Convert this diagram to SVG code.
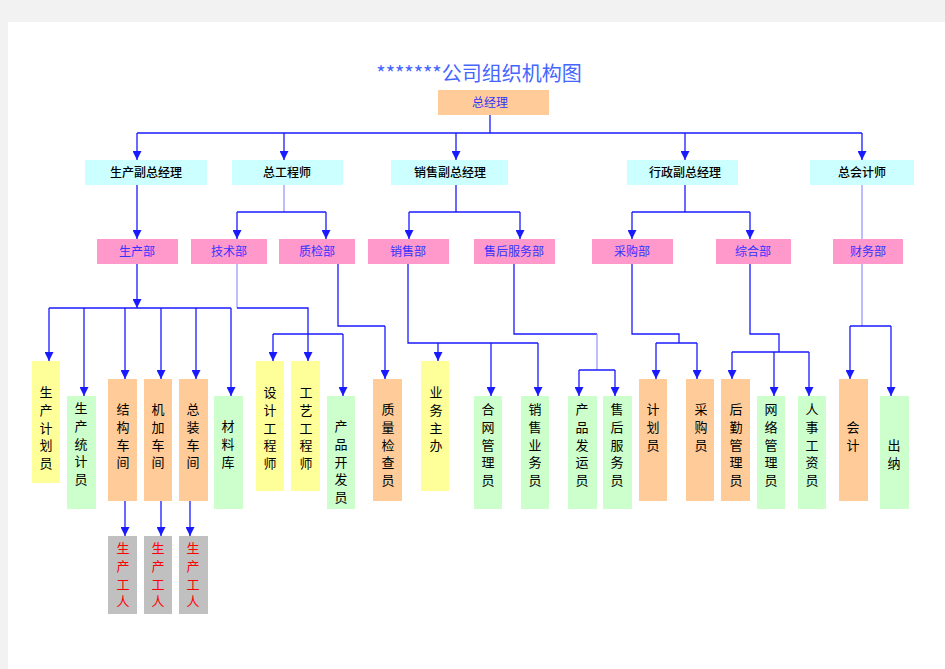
<svg xmlns="http://www.w3.org/2000/svg" width="945" height="669" viewBox="0 0 945 669">
<style>
text{font-family:"Noto Sans CJK SC","Noto Sans",sans-serif;}
.title{font-size:20px;fill:#4466FF;}
.h{font-size:12px;text-anchor:middle;}
.blue{fill:#3333FF;}
.blk{fill:#000000;font-weight:500;}
.v{font-size:13px;text-anchor:middle;fill:#000000;}
.red{fill:#FF0000;}
.or{fill:#FFCC99;}
.cy{fill:#CCFFFF;}
.pk{fill:#FF99CC;}
.ye{fill:#FFFF99;}
.gr{fill:#CCFFCC;}
.gy{fill:#C0C0C0;}
.ln{fill:none;stroke:#1a1aff;stroke-width:1.3;}
.lt{fill:none;stroke:#9999FF;stroke-width:1.3;}
.ar{fill:none;stroke:#1a1aff;stroke-width:1.3;marker-end:url(#ah);}
</style>
<defs>
<marker id="ah" markerUnits="userSpaceOnUse" markerWidth="9" markerHeight="9" viewBox="0 0 9 9" refX="9" refY="4.5" orient="auto">
<path d="M0,0 L9,4.5 L0,9 Z" fill="#1a1aff"/>
</marker>
</defs>
<rect x="0" y="0" width="945" height="669" fill="#F2F2F2"/>
<rect x="8" y="22" width="937" height="647" fill="#FFFFFF"/>
<text class="title" x="479" y="81" text-anchor="middle">*******公司组织机构图</text>

<g id="connectors">
<line class="ln" x1="490" y1="115" x2="490" y2="133"/>
<line class="ln" x1="137" y1="133" x2="862" y2="133"/>
<line class="ar" x1="137" y1="133" x2="137" y2="160"/>
<line class="ar" x1="284" y1="133" x2="284" y2="160"/>
<line class="ar" x1="456" y1="133" x2="456" y2="160"/>
<line class="ar" x1="685" y1="133" x2="685" y2="160"/>
<line class="ar" x1="862" y1="133" x2="862" y2="160"/>

<line class="ar" x1="137" y1="185" x2="137" y2="239"/>
<line class="lt" x1="284" y1="185" x2="284" y2="212"/>
<line class="ln" x1="237" y1="212" x2="326" y2="212"/>
<line class="ar" x1="237" y1="212" x2="237" y2="239"/>
<line class="ar" x1="326" y1="212" x2="326" y2="239"/>
<line class="ln" x1="456" y1="185" x2="456" y2="212"/>
<line class="ln" x1="409" y1="212" x2="520" y2="212"/>
<line class="ar" x1="409" y1="212" x2="409" y2="239"/>
<line class="ar" x1="520" y1="212" x2="520" y2="239"/>
<line class="ln" x1="685" y1="185" x2="685" y2="212"/>
<line class="ln" x1="632" y1="212" x2="750" y2="212"/>
<line class="ar" x1="632" y1="212" x2="632" y2="239"/>
<line class="ar" x1="750" y1="212" x2="750" y2="239"/>
<line class="lt" x1="862" y1="185" x2="862" y2="239"/>

<line class="ar" x1="137" y1="264" x2="137" y2="308"/>
<line class="ln" x1="49" y1="308" x2="231" y2="308"/>
<line class="ar" x1="49" y1="308" x2="49" y2="361"/>
<line class="ar" x1="84" y1="308" x2="84" y2="396"/>
<line class="ar" x1="125" y1="308" x2="125" y2="379"/>
<line class="ar" x1="161" y1="308" x2="161" y2="379"/>
<line class="ar" x1="196" y1="308" x2="196" y2="379"/>
<line class="ar" x1="231" y1="308" x2="231" y2="396"/>
<line class="ar" x1="125" y1="501" x2="125" y2="536"/>
<line class="ar" x1="161" y1="501" x2="161" y2="536"/>
<line class="ar" x1="190" y1="501" x2="190" y2="536"/>

<polyline class="lt" points="237,264 237,308"/>
<polyline class="ln" points="237,308 308,308 308,334"/>
<line class="ar" x1="308" y1="334" x2="308" y2="361"/>
<line class="ln" x1="273" y1="334" x2="343" y2="334"/>
<line class="ar" x1="273" y1="334" x2="273" y2="361"/>
<line class="ar" x1="343" y1="334" x2="343" y2="396"/>

<polyline class="ln" points="338,264 338,326 385,326"/>
<line class="ar" x1="385" y1="326" x2="385" y2="379"/>

<polyline class="ln" points="408,264 408,343 538,343"/>
<line class="ar" x1="438" y1="343" x2="438" y2="361"/>
<line class="ar" x1="491" y1="343" x2="491" y2="396"/>
<line class="ar" x1="538" y1="343" x2="538" y2="396"/>

<polyline class="ln" points="514,264 514,334 597,334"/>
<line class="lt" x1="597" y1="334" x2="597" y2="370"/>
<line class="ln" x1="579" y1="370" x2="615" y2="370"/>
<line class="ar" x1="579" y1="370" x2="579" y2="396"/>
<line class="ar" x1="615" y1="370" x2="615" y2="396"/>

<polyline class="ln" points="632,264 632,334 679,334 679,343"/>
<line class="ln" x1="656" y1="343" x2="697" y2="343"/>
<line class="ar" x1="656" y1="343" x2="656" y2="379"/>
<line class="ar" x1="697" y1="343" x2="697" y2="379"/>

<polyline class="ln" points="750,264 750,334 779,334 779,352"/>
<line class="ln" x1="732" y1="352" x2="809" y2="352"/>
<line class="ar" x1="732" y1="352" x2="732" y2="379"/>
<line class="ar" x1="774" y1="352" x2="774" y2="396"/>
<line class="ar" x1="809" y1="352" x2="809" y2="396"/>

<line class="lt" x1="862" y1="264" x2="862" y2="326"/>
<line class="ln" x1="850" y1="326" x2="891" y2="326"/>
<line class="ar" x1="850" y1="326" x2="850" y2="379"/>
<line class="ar" x1="891" y1="326" x2="891" y2="396"/>
</g>

<g id="zjl"><rect class="or" x="438" y="90" width="111" height="25"/><text class="h blue" x="490" y="107">总经理</text></g>

<g id="scfzjl"><rect class="cy" x="85" y="160" width="122" height="25"/><text class="h blk" x="146" y="177">生产副总经理</text></g>
<g id="zgcs"><rect class="cy" x="232" y="160" width="111" height="25"/><text class="h blk" x="287" y="177">总工程师</text></g>
<g id="xsfzjl"><rect class="cy" x="391" y="160" width="117" height="25"/><text class="h blk" x="450" y="177">销售副总经理</text></g>
<g id="xzfzjl"><rect class="cy" x="627" y="160" width="111" height="25"/><text class="h blk" x="685" y="177">行政副总经理</text></g>
<g id="zkjs"><rect class="cy" x="810" y="160" width="104" height="25"/><text class="h blk" x="862" y="177">总会计师</text></g>

<g id="scb"><rect class="pk" x="97" y="239" width="81" height="25"/><text class="h blue" x="137" y="256">生产部</text></g>
<g id="jsb"><rect class="pk" x="191" y="239" width="76" height="25"/><text class="h blue" x="229" y="256">技术部</text></g>
<g id="zjb"><rect class="pk" x="279" y="239" width="76" height="25"/><text class="h blue" x="317" y="256">质检部</text></g>
<g id="xsb"><rect class="pk" x="368" y="239" width="81" height="25"/><text class="h blue" x="408" y="256">销售部</text></g>
<g id="shfwb"><rect class="pk" x="474" y="239" width="81" height="25"/><text class="h blue" x="514" y="256">售后服务部</text></g>
<g id="cgb"><rect class="pk" x="592" y="239" width="81" height="25"/><text class="h blue" x="632" y="256">采购部</text></g>
<g id="zhb"><rect class="pk" x="716" y="239" width="75" height="25"/><text class="h blue" x="753" y="256">综合部</text></g>
<g id="cwb"><rect class="pk" x="833" y="239" width="70" height="25"/><text class="h blue" x="868" y="256">财务部</text></g>

<g id="scjhy"><rect class="ye" x="32" y="361" width="28" height="122"/><text class="v" x="46" y="397"><tspan x="46">生</tspan><tspan x="46" dy="17.8">产</tspan><tspan x="46" dy="17.8">计</tspan><tspan x="46" dy="17.8">划</tspan><tspan x="46" dy="17.8">员</tspan></text></g>
<g id="sctjy"><rect class="gr" x="67" y="396" width="29" height="113"/><text class="v" x="81" y="413"><tspan x="81">生</tspan><tspan x="81" dy="17.8">产</tspan><tspan x="81" dy="17.8">统</tspan><tspan x="81" dy="17.8">计</tspan><tspan x="81" dy="17.8">员</tspan></text></g>
<g id="jgcj"><rect class="or" x="108" y="379" width="29" height="122"/><text class="v" x="123" y="414"><tspan x="123">结</tspan><tspan x="123" dy="17.8">构</tspan><tspan x="123" dy="17.8">车</tspan><tspan x="123" dy="17.8">间</tspan></text></g>
<g id="jjcj"><rect class="or" x="144" y="379" width="28" height="122"/><text class="v" x="158" y="414"><tspan x="158">机</tspan><tspan x="158" dy="17.8">加</tspan><tspan x="158" dy="17.8">车</tspan><tspan x="158" dy="17.8">间</tspan></text></g>
<g id="zzcj"><rect class="or" x="179" y="379" width="29" height="122"/><text class="v" x="193" y="414"><tspan x="193">总</tspan><tspan x="193" dy="17.8">装</tspan><tspan x="193" dy="17.8">车</tspan><tspan x="193" dy="17.8">间</tspan></text></g>
<g id="clk"><rect class="gr" x="214" y="396" width="29" height="113"/><text class="v" x="228" y="431"><tspan x="228">材</tspan><tspan x="228" dy="17.8">料</tspan><tspan x="228" dy="17.8">库</tspan></text></g>
<g id="scgr1"><rect class="gy" x="108" y="536" width="29" height="78"/><text class="v red" x="123" y="553"><tspan x="123">生</tspan><tspan x="123" dy="17.8">产</tspan><tspan x="123" dy="17.8">工</tspan><tspan x="123" dy="17.8">人</tspan></text></g>
<g id="scgr2"><rect class="gy" x="144" y="536" width="28" height="78"/><text class="v red" x="158" y="553"><tspan x="158">生</tspan><tspan x="158" dy="17.8">产</tspan><tspan x="158" dy="17.8">工</tspan><tspan x="158" dy="17.8">人</tspan></text></g>
<g id="scgr3"><rect class="gy" x="179" y="536" width="29" height="78"/><text class="v red" x="193" y="553"><tspan x="193">生</tspan><tspan x="193" dy="17.8">产</tspan><tspan x="193" dy="17.8">工</tspan><tspan x="193" dy="17.8">人</tspan></text></g>

<g id="sjgcs"><rect class="ye" x="256" y="361" width="28" height="130"/><text class="v" x="270" y="397"><tspan x="270">设</tspan><tspan x="270" dy="17.8">计</tspan><tspan x="270" dy="17.8">工</tspan><tspan x="270" dy="17.8">程</tspan><tspan x="270" dy="17.8">师</tspan></text></g>
<g id="gygcs"><rect class="ye" x="291" y="361" width="29" height="130"/><text class="v" x="306" y="397"><tspan x="306">工</tspan><tspan x="306" dy="17.8">艺</tspan><tspan x="306" dy="17.8">工</tspan><tspan x="306" dy="17.8">程</tspan><tspan x="306" dy="17.8">师</tspan></text></g>
<g id="cpkfy"><rect class="gr" x="327" y="396" width="28" height="113"/><text class="v" x="341" y="431"><tspan x="341">产</tspan><tspan x="341" dy="17.8">品</tspan><tspan x="341" dy="17.8">开</tspan><tspan x="341" dy="17.8">发</tspan><tspan x="341" dy="17.8">员</tspan></text></g>
<g id="zljcy"><rect class="or" x="373" y="379" width="29" height="122"/><text class="v" x="388" y="414"><tspan x="388">质</tspan><tspan x="388" dy="17.8">量</tspan><tspan x="388" dy="17.8">检</tspan><tspan x="388" dy="17.8">查</tspan><tspan x="388" dy="17.8">员</tspan></text></g>
<g id="ywzb"><rect class="ye" x="421" y="361" width="28" height="130"/><text class="v" x="436" y="397"><tspan x="436">业</tspan><tspan x="436" dy="17.8">务</tspan><tspan x="436" dy="17.8">主</tspan><tspan x="436" dy="17.8">办</tspan></text></g>
<g id="htgly"><rect class="gr" x="474" y="396" width="28" height="113"/><text class="v" x="488" y="414"><tspan x="488">合</tspan><tspan x="488" dy="17.8">网</tspan><tspan x="488" dy="17.8">管</tspan><tspan x="488" dy="17.8">理</tspan><tspan x="488" dy="17.8">员</tspan></text></g>
<g id="xsywy"><rect class="gr" x="521" y="396" width="28" height="113"/><text class="v" x="535" y="414"><tspan x="535">销</tspan><tspan x="535" dy="17.8">售</tspan><tspan x="535" dy="17.8">业</tspan><tspan x="535" dy="17.8">务</tspan><tspan x="535" dy="17.8">员</tspan></text></g>
<g id="cpfyy"><rect class="gr" x="568" y="396" width="29" height="113"/><text class="v" x="582" y="414"><tspan x="582">产</tspan><tspan x="582" dy="17.8">品</tspan><tspan x="582" dy="17.8">发</tspan><tspan x="582" dy="17.8">运</tspan><tspan x="582" dy="17.8">员</tspan></text></g>
<g id="shfwy"><rect class="gr" x="603" y="396" width="29" height="113"/><text class="v" x="617" y="414"><tspan x="617">售</tspan><tspan x="617" dy="17.8">后</tspan><tspan x="617" dy="17.8">服</tspan><tspan x="617" dy="17.8">务</tspan><tspan x="617" dy="17.8">员</tspan></text></g>
<g id="jhy"><rect class="or" x="639" y="379" width="28" height="122"/><text class="v" x="653" y="414"><tspan x="653">计</tspan><tspan x="653" dy="17.8">划</tspan><tspan x="653" dy="17.8">员</tspan></text></g>
<g id="cgy"><rect class="or" x="686" y="379" width="28" height="122"/><text class="v" x="701" y="414"><tspan x="701">采</tspan><tspan x="701" dy="17.8">购</tspan><tspan x="701" dy="17.8">员</tspan></text></g>
<g id="hqgly"><rect class="or" x="721" y="379" width="29" height="122"/><text class="v" x="736" y="414"><tspan x="736">后</tspan><tspan x="736" dy="17.8">勤</tspan><tspan x="736" dy="17.8">管</tspan><tspan x="736" dy="17.8">理</tspan><tspan x="736" dy="17.8">员</tspan></text></g>
<g id="wlgly"><rect class="gr" x="757" y="396" width="28" height="113"/><text class="v" x="771" y="414"><tspan x="771">网</tspan><tspan x="771" dy="17.8">络</tspan><tspan x="771" dy="17.8">管</tspan><tspan x="771" dy="17.8">理</tspan><tspan x="771" dy="17.8">员</tspan></text></g>
<g id="rsgzy"><rect class="gr" x="798" y="396" width="28" height="113"/><text class="v" x="812" y="414"><tspan x="812">人</tspan><tspan x="812" dy="17.8">事</tspan><tspan x="812" dy="17.8">工</tspan><tspan x="812" dy="17.8">资</tspan><tspan x="812" dy="17.8">员</tspan></text></g>
<g id="kj"><rect class="or" x="839" y="379" width="29" height="122"/><text class="v" x="853" y="432"><tspan x="853">会</tspan><tspan x="853" dy="17.8">计</tspan></text></g>
<g id="cn"><rect class="gr" x="880" y="396" width="29" height="113"/><text class="v" x="894" y="450"><tspan x="894">出</tspan><tspan x="894" dy="17.8">纳</tspan></text></g>
</svg>
